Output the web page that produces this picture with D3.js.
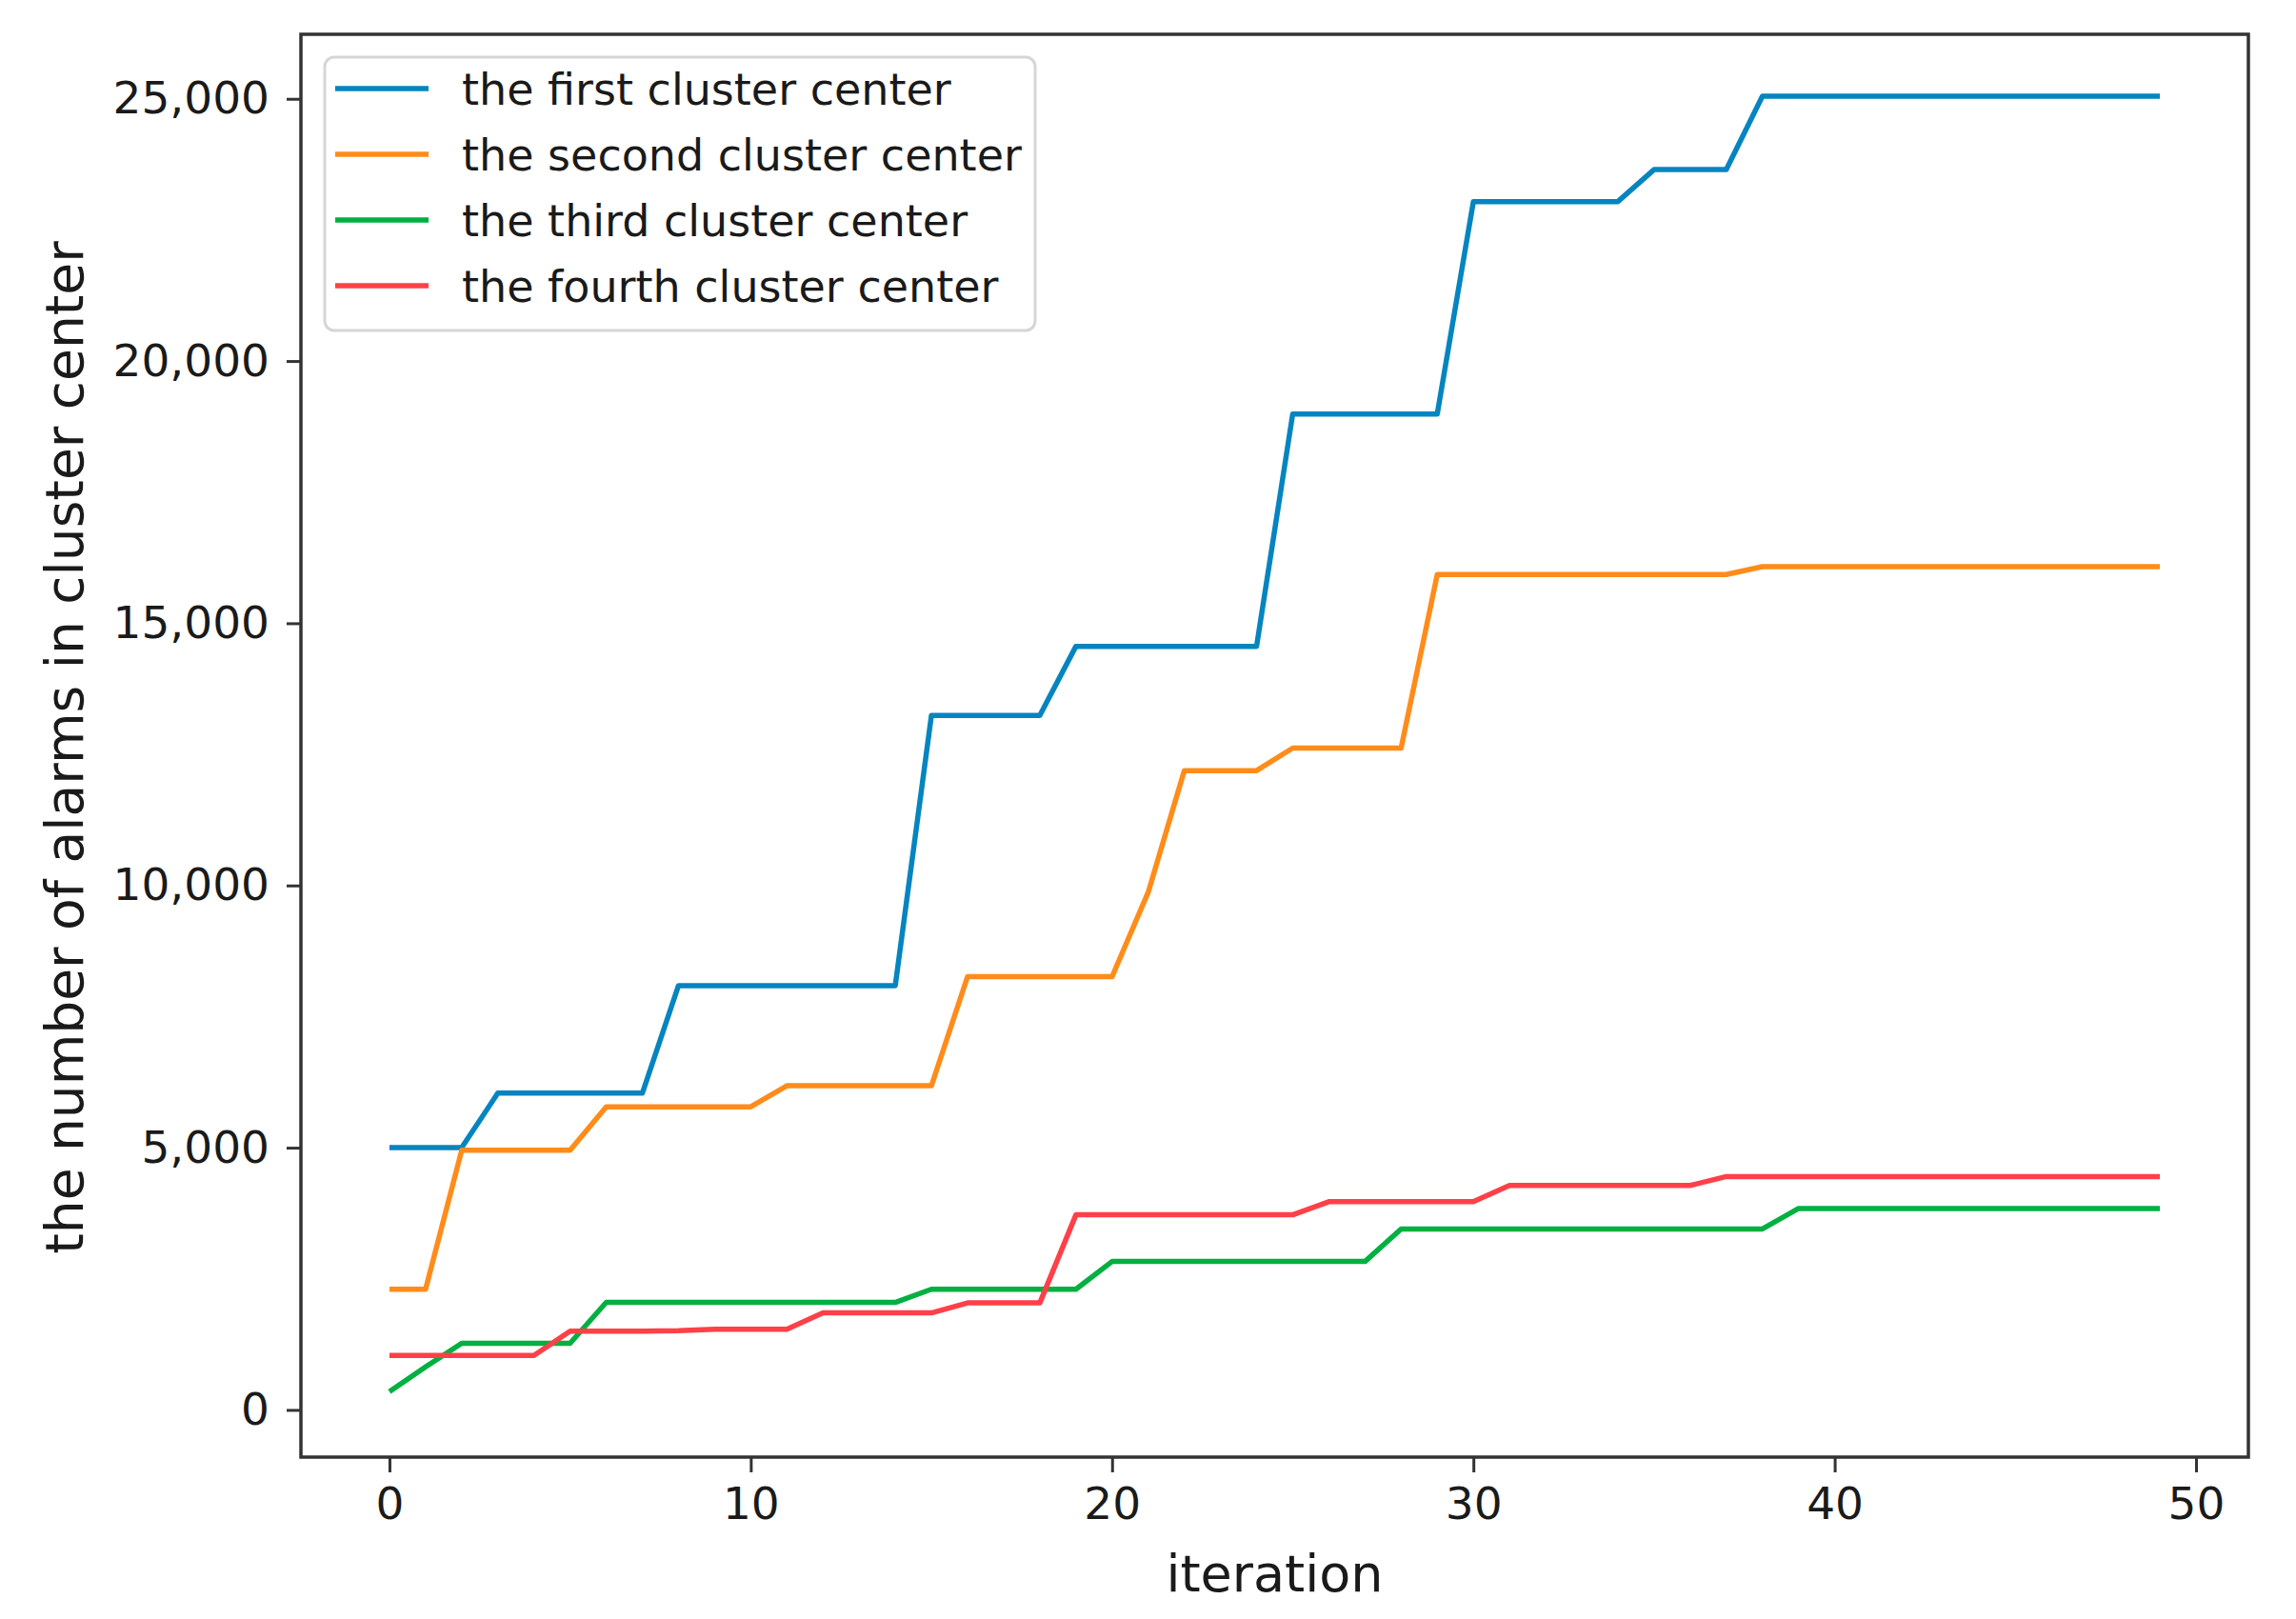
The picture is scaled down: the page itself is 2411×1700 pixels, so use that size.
<!DOCTYPE html>
<html>
<head>
<meta charset="utf-8">
<script src="https://cdn.jsdelivr.net/npm/d3@7"></script>
<style>
  body { margin: 0; background: #fff; }
  text { font-family: "DejaVu Sans", sans-serif; fill: #1a1a1a; }
</style>
</head>
<body>
<div id="chart"></div>
<script>
var svgWidth = 2411;
var svgHeight = 1700;

// plot frame
var margin = { top: 36, right: 50, bottom: 170, left: 316 };
var width = svgWidth - margin.left - margin.right;
var height = svgHeight - margin.top - margin.bottom;

// iterations 0..49
var iterations = d3.range(0, 50);

var seriesNames = [
    "the first cluster center",
    "the second cluster center",
    "the third cluster center",
    "the fourth cluster center"
];
var seriesColors = ["#0585c0", "#ff8c1a", "#00b040", "#ff4048"];

var firstCenter = [
    5000, 5000, 5000, 6040, 6040, 6040, 6040, 6040, 8090, 8090,
    8090, 8090, 8090, 8090, 8090, 13240, 13240, 13240, 13240, 14560,
    14560, 14560, 14560, 14560, 14560, 18990, 18990, 18990, 18990, 18990,
    23040, 23040, 23040, 23040, 23040, 23650, 23650, 23650, 25050, 25050,
    25050, 25050, 25050, 25050, 25050, 25050, 25050, 25050, 25050, 25050
];
var secondCenter = [
    2300, 2300, 4950, 4950, 4950, 4950, 5780, 5780, 5780, 5780,
    5780, 6180, 6180, 6180, 6180, 6180, 8260, 8260, 8260, 8260,
    8260, 9870, 12190, 12190, 12190, 12620, 12620, 12620, 12620, 15930,
    15930, 15930, 15930, 15930, 15930, 15930, 15930, 15930, 16080, 16080,
    16080, 16080, 16080, 16080, 16080, 16080, 16080, 16080, 16080, 16080
];
var thirdCenter = [
    350, 820, 1270, 1270, 1270, 1270, 2050, 2050, 2050, 2050,
    2050, 2050, 2050, 2050, 2050, 2300, 2300, 2300, 2300, 2300,
    2830, 2830, 2830, 2830, 2830, 2830, 2830, 2830, 3450, 3450,
    3450, 3450, 3450, 3450, 3450, 3450, 3450, 3450, 3450, 3840,
    3840, 3840, 3840, 3840, 3840, 3840, 3840, 3840, 3840, 3840
];
var fourthCenter = [
    1040, 1040, 1040, 1040, 1040, 1500, 1500, 1500, 1510, 1540,
    1540, 1540, 1850, 1850, 1850, 1850, 2040, 2040, 2040, 3720,
    3720, 3720, 3720, 3720, 3720, 3720, 3970, 3970, 3970, 3970,
    3970, 4280, 4280, 4280, 4280, 4280, 4280, 4450, 4450, 4450,
    4450, 4450, 4450, 4450, 4450, 4450, 4450, 4450, 4450, 4450
];

var xTicks = [0, 10, 20, 30, 40, 50];
var yTicks = [0, 5000, 10000, 15000, 20000, 25000];

var allSeries = [firstCenter, secondCenter, thirdCenter, fourthCenter];

var svg = d3.select("#chart")
    .append("svg")
    .attr("width", svgWidth)
    .attr("height", svgHeight);

var chartGroup = svg.append("g")
    .attr("transform", `translate(${margin.left}, ${margin.top})`);

// matplotlib style 5% padding around the data
var xLinearScale = d3.scaleLinear()
    .domain([-2.45, 51.45])
    .range([0, width]);

var yLinearScale = d3.scaleLinear()
    .domain([-900, 26230])
    .range([height, 0]);

var bottomAxis = d3.axisBottom(xLinearScale)
    .tickValues(xTicks)
    .tickSize(16)
    .tickPadding(14)
    .tickFormat(d3.format("d"));

var leftAxis = d3.axisLeft(yLinearScale)
    .tickValues(yTicks)
    .tickSize(15)
    .tickPadding(18)
    .tickFormat(d3.format(","));

var xAxisG = chartGroup.append("g")
    .attr("transform", `translate(0, ${height})`)
    .call(bottomAxis);

var yAxisG = chartGroup.append("g")
    .call(leftAxis);

[xAxisG, yAxisG].forEach(function (g) {
    g.select(".domain").remove();
    g.selectAll(".tick line")
        .attr("stroke", "#333")
        .attr("stroke-width", 3);
    g.selectAll(".tick text")
        .style("font-size", "47px")
        .attr("fill", "#1a1a1a");
});
xAxisG.selectAll(".tick text").attr("dy", "0.74em");

// lines
var line = d3.line()
    .x((d, i) => xLinearScale(iterations[i]))
    .y(d => yLinearScale(d));

chartGroup.selectAll(".series")
    .data(allSeries)
    .enter()
    .append("path")
    .attr("class", "series")
    .attr("d", d => line(d))
    .attr("fill", "none")
    .attr("stroke", (d, i) => seriesColors[i])
    .attr("stroke-width", 5.5)
    .attr("stroke-linejoin", "round")
    .attr("stroke-linecap", "butt");

// frame
chartGroup.append("rect")
    .attr("x", 0)
    .attr("y", 0)
    .attr("width", width)
    .attr("height", height)
    .attr("fill", "none")
    .attr("stroke", "#333")
    .attr("stroke-width", 3.5);

// legend
var legend = chartGroup.append("g")
    .attr("transform", "translate(25, 24)");

legend.append("rect")
    .attr("width", 746)
    .attr("height", 287)
    .attr("rx", 10)
    .attr("fill", "#fff")
    .attr("fill-opacity", 0.8)
    .attr("stroke", "#d6d6d6")
    .attr("stroke-width", 3);

var entries = legend.selectAll(".entry")
    .data(seriesNames)
    .enter()
    .append("g")
    .attr("class", "entry")
    .attr("transform", (d, i) => `translate(0, ${33 + i * 69})`);

entries.append("line")
    .attr("x1", 11)
    .attr("x2", 109)
    .attr("stroke", (d, i) => seriesColors[i])
    .attr("stroke-width", 5.5);

entries.append("text")
    .attr("x", 144)
    .attr("dy", "0.36em")
    .style("font-size", "46px")
    .text(d => d);

// axis labels
chartGroup.append("text")
    .attr("x", width / 2)
    .attr("y", height + 141)
    .attr("text-anchor", "middle")
    .style("font-size", "54px")
    .text("iteration");

chartGroup.append("text")
    .attr("transform", "rotate(-90)")
    .attr("x", 0 - (1480 - 36 - 695))
    .attr("y", 87 - margin.left)
    .attr("text-anchor", "middle")
    .style("font-size", "55px")
    .text("the number of alarms in cluster center");
</script>
</body>
</html>
